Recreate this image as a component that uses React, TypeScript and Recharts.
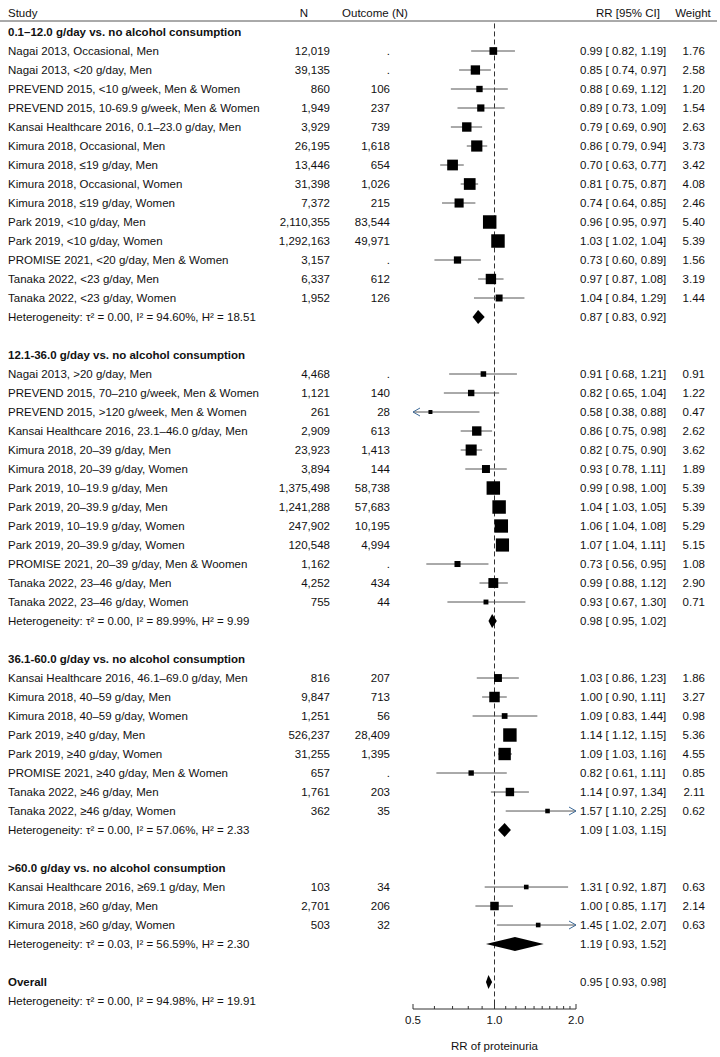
import React from 'react';
import { ScatterChart, Scatter, XAxis, YAxis, ErrorBar, ReferenceLine } from 'recharts';

type Study = {
  label: string;
  n: number;
  events: number | null;
  rr: number;
  lo: number;
  hi: number;
  weight: number;
};

type Pooled = { rr: number; lo: number; hi: number; het: string };

const FONT = '"Liberation Sans", Arial, Helvetica, sans-serif';

const groupTitles = [
  '0.1–12.0 g/day vs. no alcohol consumption',
  '12.1-36.0 g/day vs. no alcohol consumption',
  '36.1-60.0 g/day vs. no alcohol consumption',
  '>60.0 g/day vs. no alcohol consumption',
];

const lightStudies: Study[] = [
  { label: 'Nagai 2013, Occasional, Men', n: 12019, events: null, rr: 0.99, lo: 0.82, hi: 1.19, weight: 1.76 },
  { label: 'Nagai 2013, <20 g/day, Men', n: 39135, events: null, rr: 0.85, lo: 0.74, hi: 0.97, weight: 2.58 },
  { label: 'PREVEND 2015, <10 g/week, Men & Women', n: 860, events: 106, rr: 0.88, lo: 0.69, hi: 1.12, weight: 1.2 },
  { label: 'PREVEND 2015, 10-69.9 g/week, Men & Women', n: 1949, events: 237, rr: 0.89, lo: 0.73, hi: 1.09, weight: 1.54 },
  { label: 'Kansai Healthcare 2016, 0.1–23.0 g/day, Men', n: 3929, events: 739, rr: 0.79, lo: 0.69, hi: 0.9, weight: 2.63 },
  { label: 'Kimura 2018, Occasional, Men', n: 26195, events: 1618, rr: 0.86, lo: 0.79, hi: 0.94, weight: 3.73 },
  { label: 'Kimura 2018, ≤19 g/day, Men', n: 13446, events: 654, rr: 0.7, lo: 0.63, hi: 0.77, weight: 3.42 },
  { label: 'Kimura 2018, Occasional, Women', n: 31398, events: 1026, rr: 0.81, lo: 0.75, hi: 0.87, weight: 4.08 },
  { label: 'Kimura 2018, ≤19 g/day, Women', n: 7372, events: 215, rr: 0.74, lo: 0.64, hi: 0.85, weight: 2.46 },
  { label: 'Park 2019, <10 g/day, Men', n: 2110355, events: 83544, rr: 0.96, lo: 0.95, hi: 0.97, weight: 5.4 },
  { label: 'Park 2019, <10 g/day, Women', n: 1292163, events: 49971, rr: 1.03, lo: 1.02, hi: 1.04, weight: 5.39 },
  { label: 'PROMISE 2021, <20 g/day, Men & Women', n: 3157, events: null, rr: 0.73, lo: 0.6, hi: 0.89, weight: 1.56 },
  { label: 'Tanaka 2022, <23 g/day, Men', n: 6337, events: 612, rr: 0.97, lo: 0.87, hi: 1.08, weight: 3.19 },
  { label: 'Tanaka 2022, <23 g/day, Women', n: 1952, events: 126, rr: 1.04, lo: 0.84, hi: 1.29, weight: 1.44 },
];

const moderateStudies: Study[] = [
  { label: 'Nagai 2013, >20 g/day, Men', n: 4468, events: null, rr: 0.91, lo: 0.68, hi: 1.21, weight: 0.91 },
  { label: 'PREVEND 2015, 70–210 g/week, Men & Women', n: 1121, events: 140, rr: 0.82, lo: 0.65, hi: 1.04, weight: 1.22 },
  { label: 'PREVEND 2015, >120 g/week, Men & Women', n: 261, events: 28, rr: 0.58, lo: 0.38, hi: 0.88, weight: 0.47 },
  { label: 'Kansai Healthcare 2016, 23.1–46.0 g/day, Men', n: 2909, events: 613, rr: 0.86, lo: 0.75, hi: 0.98, weight: 2.62 },
  { label: 'Kimura 2018, 20–39 g/day, Men', n: 23923, events: 1413, rr: 0.82, lo: 0.75, hi: 0.9, weight: 3.62 },
  { label: 'Kimura 2018, 20–39 g/day, Women', n: 3894, events: 144, rr: 0.93, lo: 0.78, hi: 1.11, weight: 1.89 },
  { label: 'Park 2019, 10–19.9 g/day, Men', n: 1375498, events: 58738, rr: 0.99, lo: 0.98, hi: 1.0, weight: 5.39 },
  { label: 'Park 2019, 20–39.9 g/day, Men', n: 1241288, events: 57683, rr: 1.04, lo: 1.03, hi: 1.05, weight: 5.39 },
  { label: 'Park 2019, 10–19.9 g/day, Women', n: 247902, events: 10195, rr: 1.06, lo: 1.04, hi: 1.08, weight: 5.29 },
  { label: 'Park 2019, 20–39.9 g/day, Women', n: 120548, events: 4994, rr: 1.07, lo: 1.04, hi: 1.11, weight: 5.15 },
  { label: 'PROMISE 2021, 20–39 g/day, Men & Woomen', n: 1162, events: null, rr: 0.73, lo: 0.56, hi: 0.95, weight: 1.08 },
  { label: 'Tanaka 2022, 23–46 g/day, Men', n: 4252, events: 434, rr: 0.99, lo: 0.88, hi: 1.12, weight: 2.9 },
  { label: 'Tanaka 2022, 23–46 g/day, Women', n: 755, events: 44, rr: 0.93, lo: 0.67, hi: 1.3, weight: 0.71 },
];

const heavyStudies: Study[] = [
  { label: 'Kansai Healthcare 2016, 46.1–69.0 g/day, Men', n: 816, events: 207, rr: 1.03, lo: 0.86, hi: 1.23, weight: 1.86 },
  { label: 'Kimura 2018, 40–59 g/day, Men', n: 9847, events: 713, rr: 1.0, lo: 0.9, hi: 1.11, weight: 3.27 },
  { label: 'Kimura 2018, 40–59 g/day, Women', n: 1251, events: 56, rr: 1.09, lo: 0.83, hi: 1.44, weight: 0.98 },
  { label: 'Park 2019, ≥40 g/day, Men', n: 526237, events: 28409, rr: 1.14, lo: 1.12, hi: 1.15, weight: 5.36 },
  { label: 'Park 2019, ≥40 g/day, Women', n: 31255, events: 1395, rr: 1.09, lo: 1.03, hi: 1.16, weight: 4.55 },
  { label: 'PROMISE 2021, ≥40 g/day, Men & Women', n: 657, events: null, rr: 0.82, lo: 0.61, hi: 1.11, weight: 0.85 },
  { label: 'Tanaka 2022, ≥46 g/day, Men', n: 1761, events: 203, rr: 1.14, lo: 0.97, hi: 1.34, weight: 2.11 },
  { label: 'Tanaka 2022, ≥46 g/day, Women', n: 362, events: 35, rr: 1.57, lo: 1.1, hi: 2.25, weight: 0.62 },
];

const veryHeavyStudies: Study[] = [
  { label: 'Kansai Healthcare 2016, ≥69.1 g/day, Men', n: 103, events: 34, rr: 1.31, lo: 0.92, hi: 1.87, weight: 0.63 },
  { label: 'Kimura 2018, ≥60 g/day, Men', n: 2701, events: 206, rr: 1.0, lo: 0.85, hi: 1.17, weight: 2.14 },
  { label: 'Kimura 2018, ≥60 g/day, Women', n: 503, events: 32, rr: 1.45, lo: 1.02, hi: 2.07, weight: 0.63 },
];

const pooledByGroup: Pooled[] = [
  { rr: 0.87, lo: 0.83, hi: 0.92, het: 'τ² = 0.00, I² = 94.60%, H² = 18.51' },
  { rr: 0.98, lo: 0.95, hi: 1.02, het: 'τ² = 0.00, I² = 89.99%, H² = 9.99' },
  { rr: 1.09, lo: 1.03, hi: 1.15, het: 'τ² = 0.00, I² = 57.06%, H² = 2.33' },
  { rr: 1.19, lo: 0.93, hi: 1.52, het: 'τ² = 0.03, I² = 56.59%, H² = 2.30' },
];

const overall: Pooled = { rr: 0.95, lo: 0.93, hi: 0.98, het: 'τ² = 0.00, I² = 94.98%, H² = 19.91' };

const X_MIN = 0.5;
const X_MAX = 2;
const xTicks = [0.5, 0.6, 0.7, 0.8, 0.9, 1, 1.1, 1.2, 1.3, 1.4, 1.5, 1.6, 1.7, 1.8, 1.9, 2];
const xMajorTicks = [0.5, 1, 2];

type Row = {
  kind: 'header' | 'group' | 'study' | 'het' | 'overall' | 'blank';
  text?: string;
  study?: Study;
  est?: Pooled;
};

// one entry per line of the table, top to bottom
const rows: Row[] = [{ kind: 'header' }];
[lightStudies, moderateStudies, heavyStudies, veryHeavyStudies].forEach((list, g) => {
  if (g > 0) rows.push({ kind: 'blank' });
  rows.push({ kind: 'group', text: groupTitles[g] });
  list.forEach((s) => rows.push({ kind: 'study', study: s }));
  rows.push({ kind: 'het', text: pooledByGroup[g].het, est: pooledByGroup[g] });
});
rows.push({ kind: 'blank' });
rows.push({ kind: 'overall', est: overall });
rows.push({ kind: 'het', text: overall.het });

const rowIndexes = rows.map((_, i) => i);

const studyPoints = rows
  .map((r, i) => ({ r, i }))
  .filter(({ r }) => r.kind === 'study')
  .map(({ r, i }) => {
    const s = r.study as Study;
    return {
      row: i,
      rr: s.rr,
      weight: s.weight,
      err: [s.rr - Math.max(s.lo, X_MIN), Math.min(s.hi, X_MAX) - s.rr],
    };
  });

const arrowPoints = rows.flatMap((r, i) => {
  if (r.kind !== 'study') return [];
  const s = r.study as Study;
  const out: { row: number; rr: number; side: string }[] = [];
  if (s.lo < X_MIN) out.push({ row: i, rr: X_MIN, side: 'left' });
  if (s.hi > X_MAX) out.push({ row: i, rr: X_MAX, side: 'right' });
  return out;
});

const diamonds = rows
  .map((r, i) => ({ r, i }))
  .filter(({ r }) => r.est && (r.kind === 'het' || r.kind === 'overall'))
  .map(({ r, i }) => {
    const e = r.est as Pooled;
    return [
      { row: i, rr: e.lo },
      { row: i, rr: e.rr },
      { row: i, rr: e.hi },
    ];
  });

const fmtCI = (e: { rr: number; lo: number; hi: number }) =>
  `${e.rr.toFixed(2)} [ ${e.lo.toFixed(2)}, ${e.hi.toFixed(2)}]`;

const TEXT = '#111';
const FS = 11.5;
const RR_X = 580;

const RowTick = (props: any) => {
  const { y, payload } = props;
  const row = rows[payload.value];
  if (!row || row.kind === 'blank') return <g />;
  const common = { fontFamily: FONT, fontSize: FS, fill: TEXT, dy: '0.35em' };
  if (row.kind === 'header') {
    return (
      <g>
        <text x={8} y={y} {...common}>Study</text>
        <text x={304} y={y} textAnchor="middle" {...common}>N</text>
        <text x={375} y={y} textAnchor="middle" {...common}>Outcome (N)</text>
        <text x={628} y={y} textAnchor="middle" {...common}>RR [95% CI]</text>
        <text x={693} y={y} textAnchor="middle" {...common}>Weight</text>
        <line x1={0} x2={717} y1={y + 8} y2={y + 8} stroke="#555" strokeWidth={1} />
      </g>
    );
  }
  if (row.kind === 'group') {
    return <text x={8} y={y} fontWeight="bold" {...common}>{row.text}</text>;
  }
  if (row.kind === 'study') {
    const s = row.study as Study;
    return (
      <g>
        <text x={8} y={y} {...common}>{s.label}</text>
        <text x={330} y={y} textAnchor="end" {...common}>{s.n.toLocaleString('en-US')}</text>
        <text x={390} y={y} textAnchor="end" {...common}>{s.events === null ? '.' : s.events.toLocaleString('en-US')}</text>
        <text x={RR_X} y={y} {...common}>{fmtCI(s)}</text>
        <text x={705} y={y} textAnchor="end" {...common}>{s.weight.toFixed(2)}</text>
      </g>
    );
  }
  if (row.kind === 'overall') {
    return (
      <g>
        <text x={8} y={y} fontWeight="bold" {...common}>Overall</text>
        <text x={RR_X} y={y} {...common}>{fmtCI(row.est as Pooled)}</text>
      </g>
    );
  }
  return (
    <g>
      <text x={8} y={y} {...common}>{`Heterogeneity: ${row.text}`}</text>
      {row.est && <text x={RR_X} y={y} {...common}>{fmtCI(row.est)}</text>}
    </g>
  );
};

const XTick = (props: any) => {
  const { x, y, payload } = props;
  const major = xMajorTicks.includes(payload.value);
  return (
    <g>
      <line x1={x} x2={x} y1={y} y2={y - (major ? 5 : 3)} stroke="#333" strokeWidth={1} />
      {major && (
        <text x={x} y={y + 15} textAnchor="middle" fontFamily={FONT} fontSize={FS} fill={TEXT}>
          {payload.value.toFixed(1)}
        </text>
      )}
    </g>
  );
};

const Square = (props: any) => {
  const { cx, cy, payload } = props;
  const side = 5.8 * Math.sqrt(payload.weight);
  return <rect x={cx - side / 2} y={cy - side / 2} width={side} height={side} fill="#000" />;
};

const Arrow = (props: any) => {
  const { cx, cy, payload } = props;
  const d = payload.side === 'left' ? 1 : -1;
  return (
    <polyline
      points={`${cx + d * 7},${cy - 4} ${cx},${cy} ${cx + d * 7},${cy + 4}`}
      fill="none"
      stroke="#3d6a98"
      strokeWidth={1}
    />
  );
};

const diamondLine = (props: any) => {
  const pts = props.points || [];
  if (pts.length < 3) return <g />;
  const [l, m, r] = pts;
  return (
    <polygon
      points={`${l.x},${l.y} ${m.x},${m.y - 7} ${r.x},${r.y} ${m.x},${m.y + 7}`}
      fill="#000"
    />
  );
};

const noShape = () => <g />;

export default function App() {
  return (
    <div style={{ position: 'absolute', left: 0, top: 0, width: 720, height: 1057, background: '#fff' }}>
      <ScatterChart width={720} height={1057} margin={{ top: 3.5, right: 144, bottom: 0, left: 0 }}>
        <XAxis
          type="number"
          dataKey="rr"
          scale="log"
          domain={[X_MIN, X_MAX]}
          allowDataOverflow
          ticks={xTicks}
          interval={0}
          tick={<XTick />}
          tickLine={false}
          tickSize={0}
          tickMargin={0}
          axisLine={{ stroke: '#333' }}
          height={48}
          label={{ value: 'RR of proteinuria', position: 'insideBottom', offset: 7, fill: TEXT, fontSize: FS, fontFamily: FONT }}
        />
        <YAxis
          type="number"
          dataKey="row"
          domain={[-0.5, 52.42]}
          allowDataOverflow
          reversed
          ticks={rowIndexes}
          interval={0}
          tick={<RowTick />}
          tickLine={false}
          axisLine={false}
          tickSize={0}
          width={413}
        />
        <ReferenceLine
          segment={[{ x: 1, y: 0.55 }, { x: 1, y: 52.42 }]}
          stroke="#333"
          strokeDasharray="5 3"
          strokeWidth={1}
        />
        <Scatter data={studyPoints} shape={<Square />} isAnimationActive={false}>
          <ErrorBar
            dataKey={(p: any) => (p.payload ?? p).err}
            direction="x"
            width={0}
            stroke="#555"
            strokeWidth={1}
            isAnimationActive={false}
          />
        </Scatter>
        <Scatter data={arrowPoints} shape={<Arrow />} isAnimationActive={false} />
        {diamonds.map((d, i) => (
          <Scatter
            key={i}
            data={d}
            shape={noShape}
            line={diamondLine}
            lineType="joint"
            isAnimationActive={false}
          />
        ))}
      </ScatterChart>
    </div>
  );
}
